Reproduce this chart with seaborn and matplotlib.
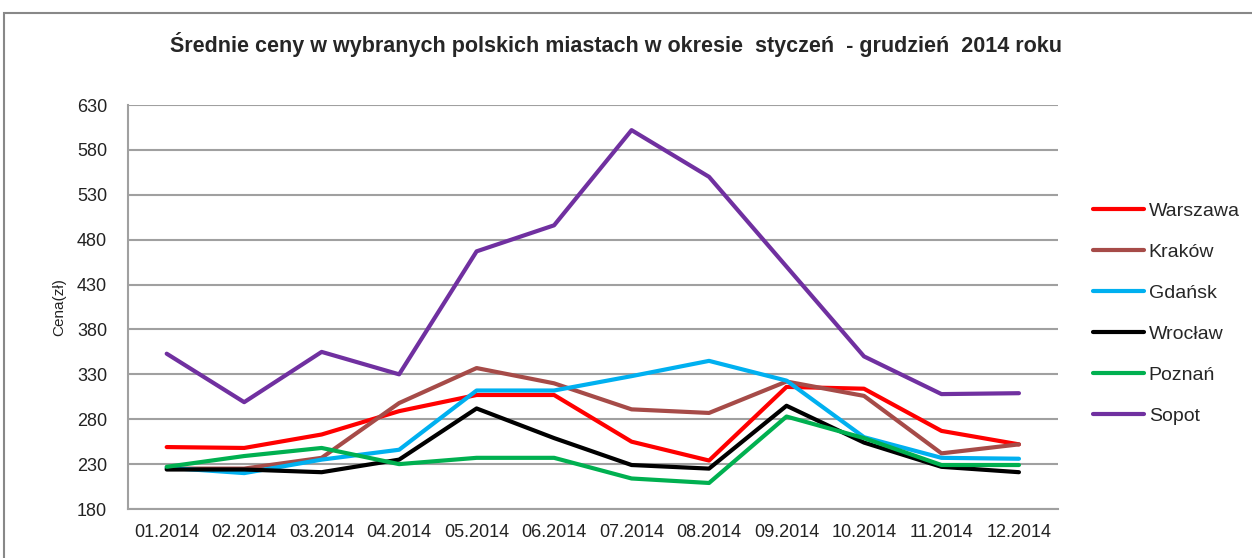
import pandas as pd
import matplotlib.pyplot as plt
import matplotlib.patches as mpatches
import seaborn as sns


# ---------------- DATA ----------------

months = ["01.2014", "02.2014", "03.2014", "04.2014", "05.2014", "06.2014",
          "07.2014", "08.2014", "09.2014", "10.2014", "11.2014", "12.2014"]

cities = ["Warszawa", "Kraków", "Gdańsk", "Wrocław", "Poznań", "Sopot"]

warszawa = [249, 248, 263, 289, 307, 307, 255, 234, 316, 314, 267, 252]
krakow = [225, 225, 237, 298, 337, 320, 291, 287, 322, 306, 242, 252]
gdansk = [226, 220, 235, 246, 312, 312, 328, 345, 323, 260, 237, 236]
wroclaw = [224, 224, 221, 235, 292, 259, 229, 225, 295, 254, 227, 221]
poznan = [227, 239, 248, 230, 237, 237, 214, 209, 283, 259, 229, 229]
sopot = [353, 299, 355, 330, 467, 496, 602, 550, 450, 350, 308, 309]

colors = ["#FF0000", "#A64B48", "#00B0F0", "#000000", "#00B050", "#7030A0"]

y_ticks = list(range(180, 631, 50))


# ---------------- BUILD TABLE ----------------

series = [warszawa, krakow, gdansk, wroclaw, poznan, sopot]
rows = []
for city, values in zip(cities, series):
    for i, v in enumerate(values):
        rows.append({"pos": i, "month": months[i], "city": city, "price": v})
df = pd.DataFrame(rows)


# ---------------- PLOT ----------------

sns.set_style("white")
plt.rcParams["font.family"] = ["Liberation Sans", "DejaVu Sans"]

fig = plt.figure(figsize=(12.52, 5.58), dpi=100)
ax = fig.add_axes([0.1022, 0.0878, 0.7426, 0.724])

sns.lineplot(data=df, x="pos", y="price", hue="city", hue_order=cities,
             palette=colors, linewidth=3, ax=ax, legend=True)

ax.set_xlim(-0.5, 11.5)
ax.set_ylim(180, 630)
ax.set_yticks(y_ticks)
ax.set_xticks(range(len(months)))
ax.set_xticklabels(months)
ax.tick_params(axis="both", length=0, labelsize=13, colors="#222222")
ax.tick_params(axis="x", pad=11)
ax.tick_params(axis="y", pad=15)

ax.yaxis.grid(True, color="#A0A0A0", linewidth=1.5)
ax.set_axisbelow(True)
for side in ["top", "right"]:
    ax.spines[side].set_visible(False)
for side in ["left", "bottom"]:
    ax.spines[side].set_color("#A0A0A0")
    ax.spines[side].set_linewidth(1.5)

ax.set_xlabel("")
ax.set_ylabel("Cena(zł)", fontsize=11, color="#222222", labelpad=8)

ax.set_title("Średnie ceny w wybranych polskich miastach w okresie  styczeń  - grudzień  2014 roku",
             fontsize=15.5, fontweight="bold", pad=38, x=0.525)

leg = ax.legend(loc="upper left", bbox_to_anchor=(1.030, 0.778), frameon=False,
                fontsize=14, handlelength=2.6, handletextpad=0.25,
                labelspacing=1.2, borderaxespad=0)

# outer chart frame
frame = mpatches.Rectangle((4 / 1252, -0.01), 1.02, 1 - 13 / 558 + 0.01,
                           transform=fig.transFigure, fill=False,
                           edgecolor="#888888", linewidth=1.5)
fig.patches.append(frame)

plt.savefig("out.png", dpi=100)
plt.close()
